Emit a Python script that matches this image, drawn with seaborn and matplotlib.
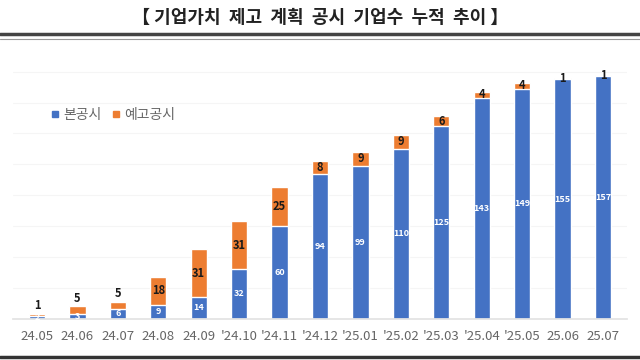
import matplotlib.pyplot as plt
import matplotlib.lines as mlines
import seaborn as sns
import pandas as pd

# Data
months = ["24.05", "24.06", "24.07", "24.08", "24.09", "'24.10", "'24.11", "'24.12",
          "'25.01", "'25.02", "'25.03", "'25.04", "'25.05", "25.06", "25.07"]
main_disclosure = [2, 3, 6, 9, 14, 32, 60, 94, 99, 110, 125, 143, 149, 155, 157]
pre_disclosure = [1, 5, 5, 18, 31, 31, 25, 8, 9, 9, 6, 4, 4, 1, 1]

BLUE = "#4472C4"
ORANGE = "#ED7D31"

df = pd.DataFrame({
    "month": months,
    "main": main_disclosure,
    "pre": pre_disclosure,
})
df["total"] = df["main"] + df["pre"]

sns.set_theme(style="white")
plt.rcParams["font.family"] = ["Noto Sans CJK KR", "DejaVu Sans"]

fig = plt.figure(figsize=(6.4, 3.6), dpi=100)
ax = fig.add_axes([0.02, 0.115, 0.96, 0.72])

# Stacked bars: total first (orange), main on top (blue)
sns.barplot(data=df, x="month", y="total", color=ORANGE, width=0.4,
            saturation=1, ax=ax)
sns.barplot(data=df, x="month", y="main", color=BLUE, width=0.4,
            saturation=1, ax=ax)

ax.set_ylim(0, 168)
ax.set_xlim(-0.6, len(months) - 0.4)
ax.set_xlabel("")
ax.set_ylabel("")
ax.set_yticks(range(0, 169, 20))
ax.set_yticklabels([])
ax.tick_params(axis="y", length=0)
ax.grid(axis="y", color="#f5f5f5", linewidth=0.8)
ax.set_axisbelow(True)
ax.tick_params(axis="x", length=0, labelsize=9.5, labelcolor="#666666", pad=8)
for side in ["top", "right", "left"]:
    ax.spines[side].set_visible(False)
ax.spines["bottom"].set_color("#e3e3e3")

# Value labels
for i, row in df.iterrows():
    ax.text(i, row["main"] / 2, str(row["main"]), ha="center", va="center",
            color="white", fontsize=6.5, fontweight="bold")
    if row["main"] < 10 and row["pre"] < 8:
        y = row["total"] + 1
        va = "bottom"
    else:
        y = row["main"] + row["pre"] / 2
        va = "center"
    ax.text(i, y, str(row["pre"]), ha="center", va=va,
            color="#1a1a1a", fontsize=8, fontweight="bold")

# Legend
handles = [
    mlines.Line2D([], [], marker="s", linestyle="", color=BLUE, markersize=5),
    mlines.Line2D([], [], marker="s", linestyle="", color=ORANGE, markersize=5),
]
ax.legend(handles, ["본공시", "예고공시"], loc="upper left",
          bbox_to_anchor=(0.04, 0.86), ncol=2, frameon=False,
          fontsize=10, labelcolor="#666666", handletextpad=0.2,
          columnspacing=0.6, handlelength=0.8)

# Title and framing lines
fig.text(0.5, 0.952, "【 기업가치  제고  계획  공시  기업수  누적  추이 】", ha="center",
         va="center", fontsize=13, fontweight="bold", color="#222222")
fig.add_artist(mlines.Line2D([0, 1], [0.905, 0.905], color="#444444", linewidth=2.5))
fig.add_artist(mlines.Line2D([0, 1], [0.893, 0.893], color="#999999", linewidth=0.8))
fig.add_artist(mlines.Line2D([0, 1], [0.008, 0.008], color="#333333", linewidth=2.5))

fig.savefig("out.png", dpi=100, facecolor="white")
